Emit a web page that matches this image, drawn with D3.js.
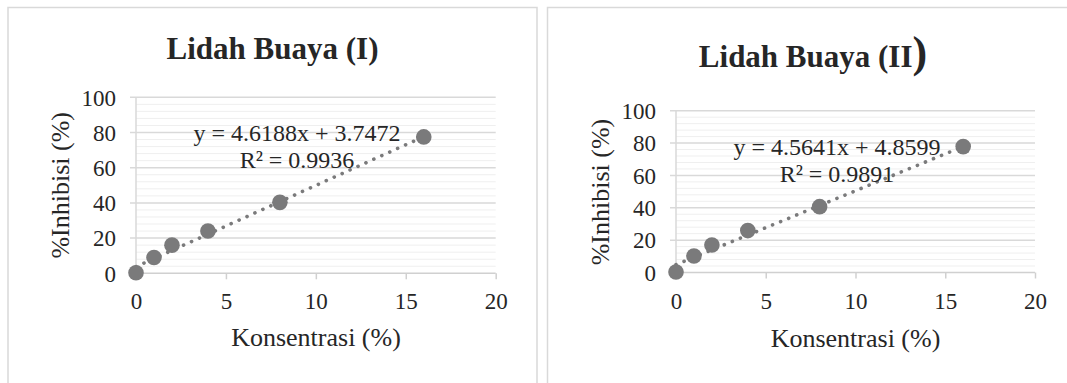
<!DOCTYPE html>
<html>
<head>
<meta charset="utf-8">
<script src="https://cdn.jsdelivr.net/npm/d3@7"></script>
<style>
  html, body { margin: 0; padding: 0; background: #fff; }
  svg { display: block; }
  svg text { font-family: "Liberation Serif", "Times New Roman", Times, Tinos, "DejaVu Serif", "Noto Serif", serif; fill: #262626; }
</style>
</head>
<body>
<svg id="chart" width="1067" height="383"></svg>
<script>
// ---- data ----
const concentrations = [0, 1, 2, 4, 8, 16];
const inhibitionI = [0.3, 9.0, 16.0, 24.0, 40.3, 77.5];
const inhibitionII = [0.3, 10.2, 17.0, 25.9, 40.7, 77.8];
const xTicks = [0, 5, 10, 15, 20];
const yTicks = [0, 20, 40, 60, 80, 100];
const titles = ["Lidah Buaya (I", "Lidah Buaya (II"];
const equations = ["y = 4.6188x + 3.7472", "y = 4.5641x + 4.8599"];
const r2Labels = ["R² = 0.9936", "R² = 0.9891"];
const slopes = [4.6188, 4.5641];
const intercepts = [3.7472, 4.8599];
const xTitle = "Konsentrasi (%)";
const yTitle = "%Inhibisi (%)";

// ---- layout (positions only) ----
const panels = [
  { values: inhibitionI, border: [8, 7.5, 529, 400], x0: 136, x1: 495.7, y0: 273.3, y1: 97.3,
    titleX: 272.5, titleY: 59, parenSize: 31, eqX: 297, eqY: 140.5, r2Y: 167.5,
    xtX: 316, xtY: 345.5, ytX: 60, ytY: 185.3 },
  { values: inhibitionII, border: [547.5, 7.5, 540, 400], x0: 676, x1: 1035, y0: 272.5, y1: 110.7,
    titleX: 813, titleY: 66.5, parenSize: 44, eqX: 837, eqY: 154.5, r2Y: 182,
    xtX: 855.5, xtY: 347, ytX: 600, ytY: 192 }
];

const FONT = '"Liberation Serif", "Times New Roman", Times, Tinos, "DejaVu Serif", "Noto Serif", serif';
const svg = d3.select("#chart");
const markColor = "#7a7a7b";

panels.forEach((p, i) => {
  const g = svg.append("g");
  g.append("rect")
    .attr("x", p.border[0]).attr("y", p.border[1])
    .attr("width", p.border[2]).attr("height", p.border[3])
    .attr("fill", "none").attr("stroke", "#d9d9d9").attr("stroke-width", 1.5);

  const x = d3.scaleLinear().domain([0, 20]).range([p.x0, p.x1]);
  const y = d3.scaleLinear().domain([0, 100]).range([p.y0, p.y1]);

  const minor = d3.range(0, 101, 4).filter(v => v % 20 !== 0);
  g.append("g").selectAll("line").data(minor).join("line")
    .attr("x1", p.x0).attr("x2", p.x1)
    .attr("y1", d => y(d)).attr("y2", d => y(d))
    .attr("stroke", "#efefef").attr("stroke-width", 1);

  g.append("g").selectAll("line").data(yTicks.filter(v => v > 0)).join("line")
    .attr("x1", p.x0 - 6).attr("x2", p.x1)
    .attr("y1", d => y(d)).attr("y2", d => y(d))
    .attr("stroke", "#d9d9d9").attr("stroke-width", 1.5);

  g.append("line").attr("x1", p.x0).attr("x2", p.x0).attr("y1", p.y1).attr("y2", p.y0)
    .attr("stroke", "#d9d9d9").attr("stroke-width", 1.5);
  g.append("line").attr("x1", p.x0 - 6).attr("x2", p.x1).attr("y1", p.y0).attr("y2", p.y0)
    .attr("stroke", "#d0d0d0").attr("stroke-width", 1.5);

  const xa = g.append("g").attr("transform", `translate(0,${p.y0})`)
    .call(d3.axisBottom(x).tickValues(xTicks).tickSize(6).tickFormat(d3.format("d")));
  xa.attr("font-family", FONT).attr("font-size", 23);
  xa.select(".domain").remove();
  xa.selectAll(".tick line").attr("stroke", "#d0d0d0").attr("stroke-width", 1.5)
    .attr("opacity", d => d === 0 ? 0 : 1);
  xa.selectAll(".tick text").attr("y", 36).attr("dy", 0).attr("fill", "#262626");

  const ya = g.append("g").attr("transform", `translate(${p.x0},0)`)
    .call(d3.axisLeft(y).tickValues(yTicks).tickSize(0).tickPadding(20).tickFormat(d3.format("d")));
  ya.attr("font-family", FONT).attr("font-size", 23);
  ya.select(".domain").remove();
  ya.selectAll(".tick text").attr("dy", "0.34em").attr("fill", "#262626");

  const xr = [d3.min(concentrations), d3.max(concentrations)];
  g.append("line")
    .attr("x1", x(xr[0])).attr("y1", y(slopes[i] * xr[0] + intercepts[i]))
    .attr("x2", x(xr[1])).attr("y2", y(slopes[i] * xr[1] + intercepts[i]))
    .attr("stroke", markColor).attr("stroke-width", 3.6)
    .attr("stroke-linecap", "round").attr("stroke-dasharray", "0.1 8.6");

  g.append("g").selectAll("circle").data(concentrations).join("circle")
    .attr("cx", d => x(d)).attr("cy", (d, j) => y(p.values[j]))
    .attr("r", 7.8).attr("fill", markColor);

  g.append("text").attr("x", p.eqX).attr("y", p.eqY).attr("text-anchor", "middle")
    .style("font-size", "24px").text(equations[i]);
  g.append("text").attr("x", p.eqX).attr("y", p.r2Y).attr("text-anchor", "middle")
    .style("font-size", "24px").text(r2Labels[i]);

  const t = g.append("text").attr("x", p.titleX).attr("y", p.titleY).attr("text-anchor", "middle")
    .style("font-size", "31px").style("font-weight", "bold");
  t.append("tspan").text(titles[i]);
  t.append("tspan").style("font-size", p.parenSize + "px").text(")");

  g.append("text").attr("x", p.xtX).attr("y", p.xtY).attr("text-anchor", "middle")
    .style("font-size", "26px").text(xTitle);
  g.append("text").attr("transform", `translate(${p.ytX},${p.ytY}) rotate(-90)`)
    .attr("text-anchor", "middle").attr("dy", "0.33em")
    .style("font-size", "26px").text(yTitle);
});
</script>
</body>
</html>
